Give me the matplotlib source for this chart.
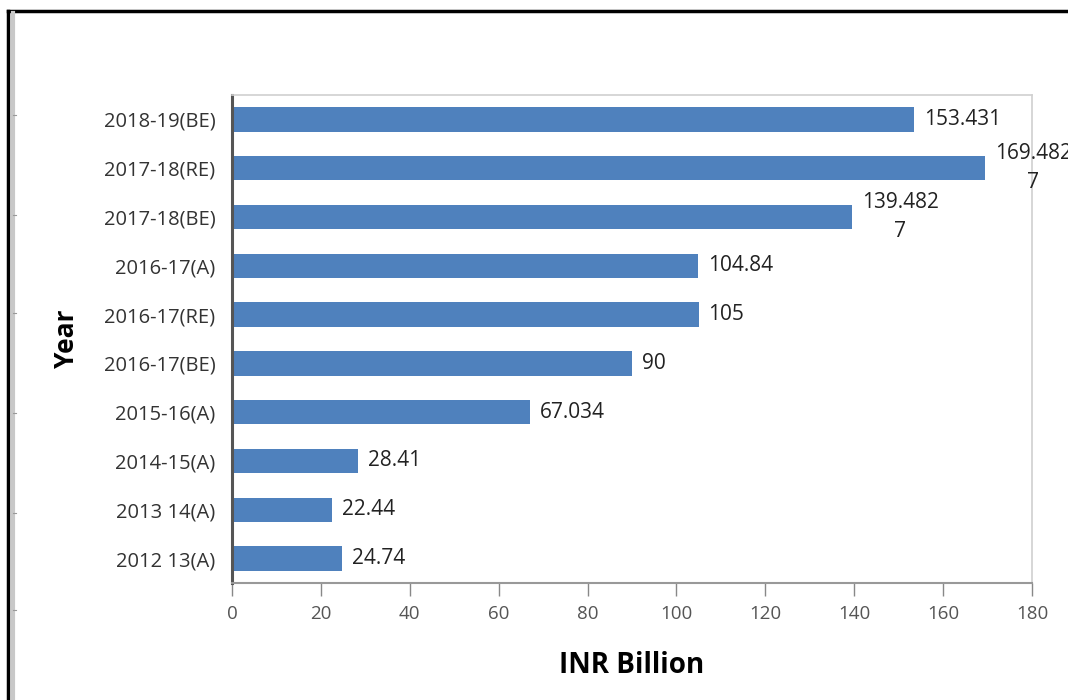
import matplotlib.pyplot as plt
from matplotlib.lines import Line2D

plt.rcParams['font.family'] = ['Open Sans', 'DejaVu Sans']

years = ['2018-19(BE)', '2017-18(RE)', '2017-18(BE)', '2016-17(A)', '2016-17(RE)',
         '2016-17(BE)', '2015-16(A)', '2014-15(A)', '2013 14(A)', '2012 13(A)']
values = [153.431, 169.4827, 139.4827, 104.84, 105, 90, 67.034, 28.41, 22.44, 24.74]
value_labels = ['153.431', '169.482\n7', '139.482\n7', '104.84', '105', '90',
                '67.034', '28.41', '22.44', '24.74']

fig = plt.figure(figsize=(10.68, 7), dpi=100)
ax = fig.add_axes([232 / 1068, 1 - 583 / 700, 800 / 1068, 488 / 700])

pos = list(range(len(years)))
ax.barh(pos, values, height=0.5, color='#4f81bd')
ax.set_ylim(len(years) - 0.5, -0.5)
ax.set_xlim(0, 180)
ax.set_xticks(range(0, 181, 20))
ax.set_yticks(pos)
ax.set_yticklabels(years, fontsize=14.5, color='#333333')
ax.tick_params(axis='y', length=0, pad=12)
ax.tick_params(axis='x', length=9, width=1, color='#888888', labelcolor='#555555',
               labelsize=13.5, pad=7)
ax.set_yticks([0, 2, 4, 6, 8], minor=True)
ax.tick_params(axis='y', which='minor', length=4, color='#555555')

for p, v, lab in zip(pos, values, value_labels):
    ax.text(v + 2.2, p, lab, va='center', ha='left', multialignment='center',
            fontsize=15, color='#222222', linespacing=1.5, clip_on=False)

ax.spines['left'].set_color('#555555')
ax.spines['left'].set_linewidth(2.2)
ax.spines['bottom'].set_color('#999999')
ax.spines['bottom'].set_linewidth(1.5)
for s in ['top', 'right']:
    ax.spines[s].set_color('#d0d0d0')
    ax.spines[s].set_linewidth(1.2)

ax.set_ylabel('Year', fontsize=19, fontweight='bold', labelpad=17)
ax.set_xlabel('INR Billion', fontsize=20, fontweight='bold', labelpad=20)

# page frame around the chart
fig.add_artist(Line2D([8 / 1068, 1], [1 - 11 / 700] * 2, color='black', lw=2.5))
fig.add_artist(Line2D([8 / 1068] * 2, [0, 1 - 11 / 700], color='black', lw=2.5))
fig.add_artist(Line2D([12.5 / 1068] * 2, [0, 1 - 13 / 700], color='#c8c8c8', lw=3))
for y in [115, 215, 313, 413, 513, 610]:
    fig.add_artist(Line2D([12.5 / 1068, 16 / 1068], [1 - y / 700] * 2, color='#999999', lw=0.8))

fig.savefig('out.png', dpi=100)
